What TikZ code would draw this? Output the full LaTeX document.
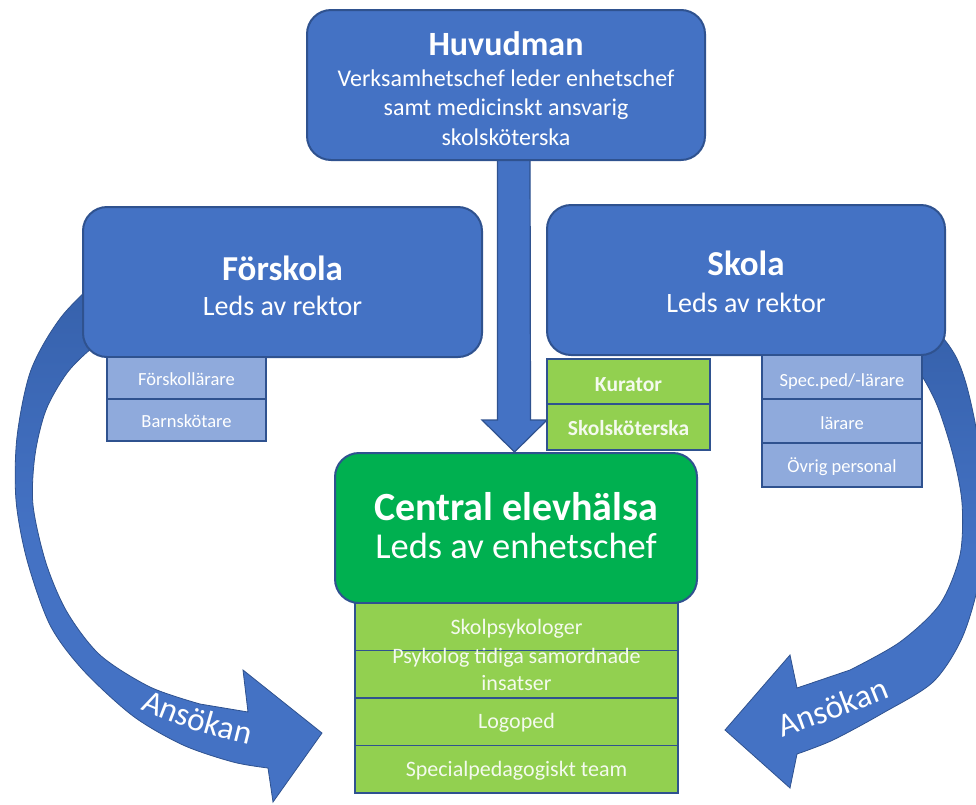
\documentclass[tikz,border=0pt]{standalone}
\usepackage{fontspec}
\setmainfont{Carlito}
\usetikzlibrary{calc,decorations.text}
\definecolor{bblue}{HTML}{4472C4}
\definecolor{bedge}{HTML}{2F528F}
\definecolor{lblue}{HTML}{8FAADC}
\definecolor{lgreen}{HTML}{92D050}
\definecolor{dgreen}{HTML}{00B050}
\definecolor{adark}{HTML}{3560AA}
\definecolor{gtext}{HTML}{F4FAEE}
\newcommand\fsz[1]{\fontsize{#1}{#1}\selectfont}
\begin{document}
\begin{tikzpicture}[x=1pt,y=-1pt,
  mainbox/.style={draw=bedge, line width=2pt, fill=bblue, rounded corners=24pt, inner sep=0pt},
  cbox/.style={draw=bedge, line width=2pt, fill=dgreen, rounded corners=24pt, inner sep=0pt},
  subblue/.style={draw=bedge, line width=1.5pt, fill=lblue, inner sep=0pt},
  subgreen/.style={draw=bedge, line width=1.5pt, fill=lgreen, inner sep=0pt},
  ttl/.style={text=white, font=\bfseries\fsz{35}, anchor=base, inner sep=0pt},
  subttl/.style={text=white, font=\fsz{28}, anchor=base, inner sep=0pt},
  hvtxt/.style={text=white, font=\fsz{24}, anchor=base, inner sep=0pt},
  lbltxt/.style={text=white, font=\fsz{18.5}, anchor=base, inner sep=0pt},
  grtxt/.style={text=gtext, font=\bfseries\fsz{21.5}, anchor=base, inner sep=0pt},
  listtxt/.style={text=gtext, font=\fsz{22}, anchor=base, inner sep=0pt},
  ansok/.style={decorate, decoration={text along path, text align=center, text color=white, text={|\fsz{33}|Ansökan}}},
  bigarrow/.style={draw=bedge, line width=0.8pt, top color=adark, bottom color=bblue, middle color=bblue},
  downarrow/.style={draw=bedge, line width=1.2pt, fill=bblue}
]
\useasboundingbox (0,0) rectangle (976,804);
\clip (0,0) rectangle (976,804);

% ---- curved arrows (behind boxes)
\path[bigarrow]
  plot[smooth] coordinates {(112,266) (62,316) (31,370) (17,437) (16,500) (27,560) (50,625) (83,670) (133,716) (183,745) (233,762) (268,768)}
  -- (273,802) -- (322,733) -- (243,670) -- (248,712)
  -- plot[smooth] coordinates {(200,704) (150,687) (100,655) (67,612) (46,563) (33,505) (35,455) (46,410) (67,373) (92,348) (118,330)}
  -- cycle;
\path[bigarrow]
  plot[smooth] coordinates {(900,312) (935,330) (955,355) (967,387) (978,440) (984,510) (979,580) (962,638) (933,682) (883,713) (833,740) (797,754)}
  -- (790,788) -- (725,730) -- (790,655) -- (797,688)
  -- plot[smooth] coordinates {(850,670) (900,642) (940,604) (960,555) (962,503) (953,455) (937,405) (918,370) (895,345)}
  -- cycle;

% ---- vertical arrow
\coordinate (dtop) at (514,150);
\coordinate (dtip) at (514.5,452);
\draw[downarrow] ($(dtop)+(-16.5,0)$) -- ($(dtip)+(-17,-32)$) -- ($(dtip)+(-32.5,-32)$)
  -- (dtip) -- ($(dtip)+(32.5,-32)$) -- ($(dtip)+(16,-32)$) -- ($(dtop)+(16,0)$) -- cycle;

% ---- main boxes
\node[mainbox, minimum width=398pt, minimum height=150pt] (huv) at (506,85) {};
\node[mainbox, minimum width=399pt, minimum height=150pt] (forsk) at (282.5,282) {};
\node[mainbox, minimum width=398pt, minimum height=150pt] (skola) at (746,280) {};
\node[cbox, minimum width=362pt, minimum height=150pt] (ceh) at (516,528) {};

% ---- texts in main boxes
\node[ttl, font=\bfseries\fsz{34}] (huvt) at (506,55) {Huvudman};
\node[hvtxt] (hv1) at (506,86) {Verksamhetschef leder enhetschef};
\node[hvtxt] (hv2) at (506,115) {samt medicinskt ansvarig};
\node[hvtxt] (hv3) at (506,145) {skolsköterska};
\node[ttl] (forskt) at (282.5,280) {Förskola};
\node[subttl] (forsks) at (282.5,315) {Leds av rektor};
\node[ttl] (skolat) at (746,275) {Skola};
\node[subttl] (skolas) at (746,312) {Leds av rektor};
\node[ttl, font=\bfseries\fsz{40}] (ceht) at (516,520) {Central elevhälsa};
\node[subttl, font=\fsz{36.5}] (cehs) at (516,558) {Leds av enhetschef};

% ---- Förskola staff
\node[subblue, minimum width=159pt, minimum height=42pt] (fl) at (186.5,378) {};
\node[subblue, minimum width=159pt, minimum height=42pt] (bs) at (186.5,420) {};
\node[lbltxt] (flt) at ($(fl.center)+(0,7.5)$) {Förskollärare};
\node[lbltxt] (bst) at ($(bs.center)+(0,7.5)$) {Barnskötare};

% ---- Skola green staff
\node[subgreen, minimum width=163pt, minimum height=45pt] (kur) at (628.5,381.5) {};
\node[subgreen, minimum width=163pt, minimum height=46pt] (ssk) at (628.5,427) {};
\node[grtxt] (kurt) at ($(kur.center)+(0,9.5)$) {Kurator};
\node[grtxt] (sskt) at ($(ssk.center)+(0,8)$) {Skolsköterska};

% ---- Skola blue staff
\node[subblue, minimum width=160pt, minimum height=44pt] (spec) at (842,377) {};
\node[subblue, minimum width=160pt, minimum height=44pt] (lar) at (842,421) {};
\node[subblue, minimum width=160pt, minimum height=44pt] (ovr) at (842,465) {};
\node[lbltxt] (spect) at ($(spec.center)+(0,9)$) {Spec.ped/-lärare};
\node[lbltxt] (lart) at ($(lar.center)+(0,8)$) {lärare};
\node[lbltxt] (ovrt) at ($(ovr.center)+(0,7)$) {Övrig personal};

% ---- Central elevhälsa staff
\node[subgreen, minimum width=323pt, minimum height=47.5pt] (sp) at (516.5,626.75) {};
\node[subgreen, minimum width=323pt, minimum height=47.5pt] (pt) at (516.5,674.25) {};
\node[subgreen, minimum width=323pt, minimum height=47.5pt] (lg) at (516.5,721.75) {};
\node[subgreen, minimum width=323pt, minimum height=47.5pt] (st) at (516.5,769.25) {};
\node[listtxt] (spt) at ($(sp.center)+(0,8)$) {Skolpsykologer};
\node[listtxt] (pt1) at (516.5,663) {Psykolog tidiga samordnade};
\node[listtxt] (pt2) at (516.5,690) {insatser};
\node[listtxt] (lgt) at ($(lg.center)+(0,7)$) {Logoped};
\node[listtxt] (stt) at ($(st.center)+(0,7)$) {Specialpedagogiskt team};

% ---- arrow labels (curved along the arrows)
\path[ansok] plot[smooth] coordinates {(100,685) (138,708) (197,731) (257,747) (295,753)};
\path[ansok] plot[smooth] coordinates {(740,750) (783,737) (839,717) (895,695) (930,676)};
\end{tikzpicture}
\end{document}
